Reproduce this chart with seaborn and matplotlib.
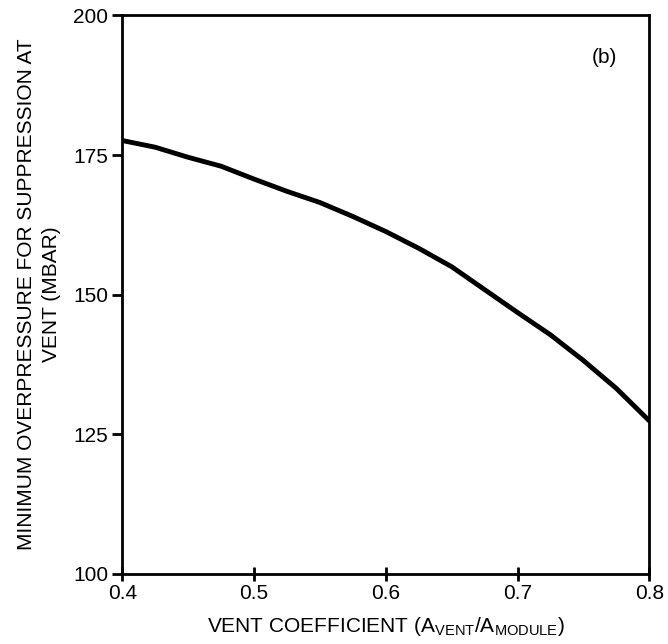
import matplotlib
matplotlib.use("Agg")
import matplotlib.pyplot as plt
import seaborn as sns
import pandas as pd

vent_coeff = [0.40, 0.425, 0.45, 0.475, 0.50, 0.525, 0.55, 0.575, 0.60,
              0.625, 0.65, 0.675, 0.70, 0.725, 0.75, 0.775, 0.80]
overpressure = [177.6, 176.4, 174.6, 173.0, 170.7, 168.5, 166.5, 164.0, 161.3,
                158.3, 155.0, 150.9, 146.8, 142.8, 138.2, 133.2, 127.4]
x_ticks = [0.4, 0.5, 0.6, 0.7, 0.8]
y_ticks = [100, 125, 150, 175, 200]


def plot_vent():
    df = pd.DataFrame({'vent': vent_coeff, 'p': overpressure})

    sns.set_style('ticks')
    plt.rcParams['font.family'] = ['Liberation Sans', 'DejaVu Sans']
    plt.rcParams['mathtext.fontset'] = 'custom'
    plt.rcParams['mathtext.rm'] = 'Liberation Sans'
    plt.rcParams['text.color'] = 'black'
    plt.rcParams['axes.labelcolor'] = 'black'
    plt.rcParams['xtick.color'] = 'black'
    plt.rcParams['ytick.color'] = 'black'

    fig = plt.figure(figsize=(6.68, 6.44), dpi=100)
    ax = fig.add_axes([0.183, 0.109, 0.789, 0.867])

    sns.lineplot(data=df, x='vent', y='p', ax=ax, color='black', linewidth=3.5)

    ax.set_xlim(0.4, 0.8)
    ax.set_ylim(100, 200)
    ax.set_xticks(x_ticks)
    ax.set_xticklabels([f'{v:.1f}' for v in x_ticks])
    ax.set_yticks(y_ticks)

    for s in ax.spines.values():
        s.set_linewidth(2)
        s.set_color('black')
    ax.tick_params(axis='y', direction='out', length=7, width=2, labelsize=15, pad=3)
    ax.tick_params(axis='x', direction='inout', length=10, width=2, labelsize=15, pad=2)

    ax.set_xlabel('VENT COEFFICIENT (A$_{\\mathrm{VENT}}$/A$_{\\mathrm{MODULE}}$)',
                  fontsize=15, labelpad=9)
    ax.set_ylabel('MINIMUM OVERPRESSURE FOR SUPPRESSION AT\nVENT (MBAR)',
                  fontsize=15, labelpad=9, linespacing=1.35)

    ax.text(0.915, 0.924, '(b)', transform=ax.transAxes, fontsize=15,
            ha='center', va='center')

    fig.savefig('out.png', dpi=100)


if __name__ == "__main__":
    plot_vent()
